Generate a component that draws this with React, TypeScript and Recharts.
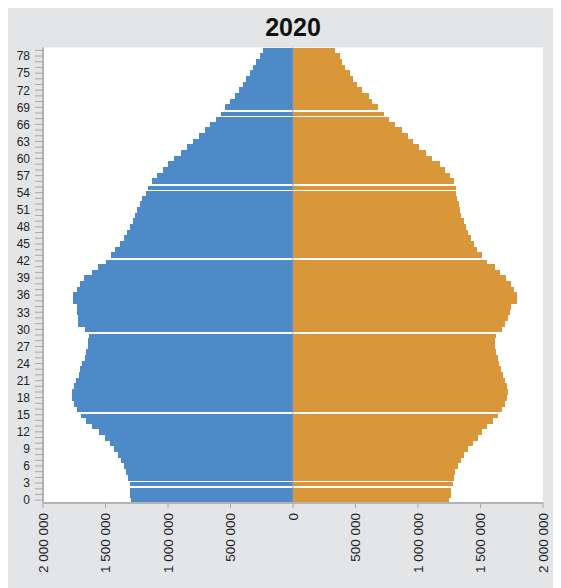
import React from "react";
import { BarChart, Bar, XAxis, YAxis, CartesianGrid, ReferenceLine } from "recharts";

// population by single year of age, in thousands (0..79)
const ages = Array.from({ length: 80 }, (_, i) => i);

const male = [
  1293, 1301, 1307, 1304, 1320, 1333, 1354, 1373, 1400, 1432,
  1466, 1506, 1552, 1605, 1653, 1693, 1728, 1754, 1768, 1768,
  1752, 1733, 1712, 1701, 1685, 1666, 1653, 1640, 1640, 1632,
  1666, 1720, 1722, 1725, 1728, 1760, 1760, 1728, 1706, 1674,
  1605, 1560, 1498, 1453, 1426, 1386, 1354, 1328, 1306, 1280,
  1264, 1248, 1221, 1205, 1178, 1160, 1128, 1088, 1040, 1000,
  954, 893, 848, 800, 752, 706, 666, 618, 578, 546,
  501, 466, 432, 400, 373, 346, 320, 293, 266, 240,
];

const female = [
  1248, 1262, 1267, 1280, 1288, 1299, 1320, 1342, 1368, 1400,
  1440, 1480, 1512, 1555, 1600, 1640, 1672, 1694, 1715, 1720,
  1715, 1699, 1680, 1661, 1646, 1640, 1627, 1614, 1614, 1627,
  1672, 1699, 1720, 1734, 1747, 1795, 1795, 1768, 1747, 1707,
  1654, 1614, 1555, 1512, 1475, 1448, 1422, 1400, 1382, 1368,
  1347, 1334, 1326, 1315, 1307, 1302, 1288, 1254, 1214, 1174,
  1112, 1067, 1006, 960, 920, 872, 814, 768, 726, 680,
  632, 606, 552, 515, 480, 454, 414, 392, 374, 339,
];

// rows drawn with a thin white seam on their upper edge in the original
const gapAges = [2, 3, 15, 29, 42, 54, 55, 67, 68];

const xTicks = [-2000000, -1500000, -1000000, -500000, 0, 500000, 1000000, 1500000, 2000000];

const data = ages.map((age, i) => ({
  age,
  male: -male[i] * 1000,
  female: female[i] * 1000,
}));

const FONT = '"Liberation Sans", Arial, sans-serif';

const fmt = (v: number) =>
  Math.abs(v).toString().replace(/\B(?=(\d{3})+(?!\d))/g, " ");

function AgeTick({ x, y, payload }: any) {
  if (payload.value % 3 !== 0) return <g />;
  return (
    <text x={x} y={y} dy="0.36em" textAnchor="end" fontSize={12} fontFamily={FONT} fill="#1f1f2a">
      {payload.value}
    </text>
  );
}

function ValueTick({ x, y, payload }: any) {
  return (
    <text
      x={x}
      y={y}
      transform={`rotate(-90 ${x} ${y})`}
      dy="0.36em"
      textAnchor="end"
      fontSize={13.5}
      fontFamily={FONT}
      fill="#1f1f2a"
    >
      {fmt(payload.value)}
    </text>
  );
}

function RowShape(props: any) {
  const { x, y, width, height, fill, payload } = props;
  const left = Math.min(x, x + width);
  const w = Math.abs(width);
  return (
    <g shapeRendering="crispEdges">
      <rect x={left} y={y} width={w} height={height} fill={fill} />
      {gapAges.includes(payload.age) && (
        <rect x={left} y={y} width={w} height={1.6} fill="#ffffff" />
      )}
    </g>
  );
}

export default function App() {
  return (
    <div style={{ position: "relative", width: 545, height: 580, background: "#e4e5e7" }}>
      <div
        style={{
          position: "absolute",
          left: 0,
          top: 5,
          width: 570,
          textAlign: "center",
          fontFamily: FONT,
          fontWeight: 700,
          fontSize: 25,
          color: "#111",
        }}
      >
        2020
      </div>
      <BarChart
        width={545}
        height={580}
        data={data}
        layout="vertical"
        stackOffset="sign"
        barCategoryGap={0}
        margin={{ top: 39.5, right: 10, bottom: 0, left: 0 }}
      >
        <CartesianGrid horizontal={false} vertical={false} fill="#ffffff" />
        <XAxis
          type="number"
          domain={[-2000000, 2000000]}
          ticks={xTicks}
          interval={0}
          height={85}
          tick={<ValueTick />}
          tickSize={5}
          tickMargin={5}
          axisLine={{ stroke: "#b4b4b4", strokeWidth: 2 }}
          tickLine={{ stroke: "#aaaaaa" }}
        />
        <XAxis
          xAxisId="top"
          orientation="top"
          type="number"
          domain={[-2000000, 2000000]}
          height={0}
          tick={false}
          tickLine={false}
          axisLine={{ stroke: "#b4b4b4", strokeWidth: 2 }}
        />
        <YAxis
          type="category"
          dataKey="age"
          reversed
          interval={0}
          width={35}
          tick={<AgeTick />}
          tickSize={8}
          tickMargin={5}
          axisLine={{ stroke: "#b4b4b4", strokeWidth: 2 }}
          tickLine={{ stroke: "#a8a8a8" }}
        />
        <YAxis
          yAxisId="right"
          orientation="right"
          type="category"
          dataKey="age"
          width={0}
          tick={false}
          tickLine={false}
          axisLine={{ stroke: "#b4b4b4", strokeWidth: 2 }}
        />
        <Bar dataKey="male" stackId="pop" fill="#4e8ac8" shape={<RowShape />} isAnimationActive={false} />
        <Bar dataKey="female" stackId="pop" fill="#d99739" shape={<RowShape />} isAnimationActive={false} />
        <ReferenceLine x={0} stroke="#9a9a9a" strokeWidth={1} />
      </BarChart>
    </div>
  );
}
